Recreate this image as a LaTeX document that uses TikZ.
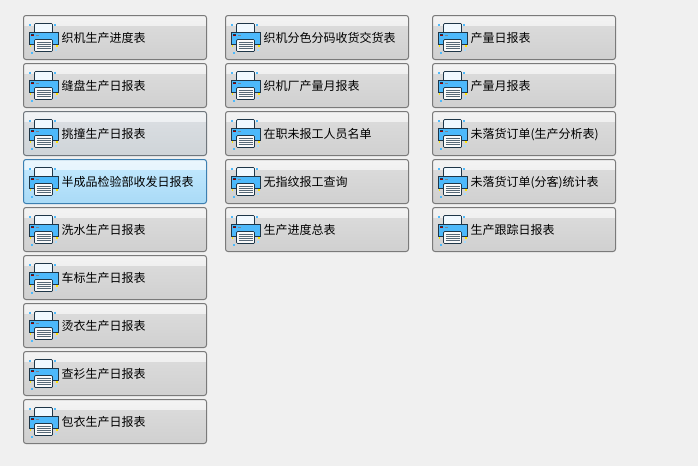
\documentclass[tikz,border=0pt]{standalone}
\usepackage{fontspec}
\usetikzlibrary{positioning}
\setmainfont{Noto Sans CJK SC}
\definecolor{pagebg}{HTML}{F0F0F0}
\definecolor{grA}{HTML}{F3F3F3}
\definecolor{grB}{HTML}{E6E6E6}
\definecolor{grC}{HTML}{DADADA}
\definecolor{grD}{HTML}{D0D0D0}
\definecolor{grE}{HTML}{7A7A7A}
\definecolor{gbA}{HTML}{F1F3F5}
\definecolor{gbB}{HTML}{E4E7EA}
\definecolor{gbC}{HTML}{D9DDE1}
\definecolor{gbD}{HTML}{CFD4D8}
\definecolor{gbE}{HTML}{6F767C}
\definecolor{blA}{HTML}{EAF6FD}
\definecolor{blB}{HTML}{D9F0FC}
\definecolor{blC}{HTML}{BEE6FD}
\definecolor{blD}{HTML}{A9DAF6}
\definecolor{blE}{HTML}{3C7FB1}
\definecolor{inkblue}{HTML}{4DB9FB}
\definecolor{inkdark}{HTML}{1E3648}
\begin{document}
\begin{tikzpicture}
  [
      x=1pt, y=1pt, node distance=4pt,
      btn/.style={draw=#1E, line width=1pt, rounded corners=2.5pt, outer sep=0pt, inner xsep=0pt, inner ysep=0pt,
        minimum width=183pt, minimum height=44pt, text width=183pt, text height=11pt, text depth=1pt,
        align=left, font=\fontsize{12}{14}\selectfont,
        execute at begin node={\hspace*{38pt}},
        path picture={
          \path [draw=none, sharp corners, top color=#1A, bottom color=#1B] (path picture bounding box.north west) rectangle ([yshift=-11pt]path picture bounding box.north east);
          \path [draw=none, sharp corners, top color=#1C, bottom color=#1D] ([yshift=-11pt]path picture bounding box.north west) rectangle (path picture bounding box.south east);
        }},
      button/.style={btn=gr},
      cool button/.style={btn=gb},
      hot button/.style={btn=bl},
      printer/.pic={
        \draw [draw=inkdark, fill=white!92!inkblue, line width=.7pt, rounded corners=1pt] (11,-8) rectangle (29,-18);
        \draw [draw=inkdark, fill=inkblue, line width=.7pt] (5.5,-17) rectangle (34.5,-28.5);
        \fill [inkdark] (7.5,-18) rectangle (10.5,-19);
        \fill [red!60!black] (7.5,-19) rectangle (10.5,-19.6);
        \fill [inkdark!60] (12,-19) rectangle (15,-19.6);
        \draw [draw=inkdark, fill=white!96!gray, line width=.7pt, rounded corners=1pt] (11,-24) rectangle (29,-36);
        \foreach \y in {27,29,31,33}
          \draw [inkdark!75, line width=.7pt] (13,-\y) -- (27,-\y);
        \foreach \x/\y in {6/9,31/9,8/37.5}
          \fill [inkblue] (\x-1,-\y-1) rectangle (\x+1,-\y+1);
        \foreach \x/\y in {33.5/30.5,7/30.5}
          \fill [yellow!90!orange] (\x-.7,-\y-.7) rectangle (\x+.7,-\y+.7);
        \fill [inkblue!50] (31,-35) rectangle (33,-33.5);
      }
    ]
    \fill [pagebg] (0,0) rectangle (698,-466);
    \useasboundingbox (0,0) rectangle (698,-466);
    \node (a1) [button] at (115,-37.5) {织机生产进度表};
    \node (a2) [below=of a1, button] {缝盘生产日报表};
    \node (a3) [below=of a2, cool button] {挑撞生产日报表};
    \node (a4) [below=of a3, hot button] {半成品检验部收发日报表};
    \node (a5) [below=of a4, button] {洗水生产日报表};
    \node (a6) [below=of a5, button] {车标生产日报表};
    \node (a7) [below=of a6, button] {烫衣生产日报表};
    \node (a8) [below=of a7, button] {查衫生产日报表};
    \node (a9) [below=of a8, button] {包衣生产日报表};
    \node (b1) [right=19pt of a1, button] {织机分色分码收货交货表};
    \node (b2) [below=of b1, button] {织机厂产量月报表};
    \node (b3) [below=of b2, button] {在职未报工人员名单};
    \node (b4) [below=of b3, button] {无指纹报工查询};
    \node (b5) [below=of b4, button] {生产进度总表};
    \node (c1) [right=24pt of b1, button] {产量日报表};
    \node (c2) [below=of c1, button] {产量月报表};
    \node (c3) [below=of c2, button] {未落货订单(生产分析表)};
    \node (c4) [below=of c3, button] {未落货订单(分客)统计表};
    \node (c5) [below=of c4, button] {生产跟踪日报表};
    \foreach \c/\n in {a/9,b/5,c/5}
      \foreach \i in {1,...,\n}
        \pic at (\c\i.north west) {printer};
  \end{tikzpicture}
\end{document}
